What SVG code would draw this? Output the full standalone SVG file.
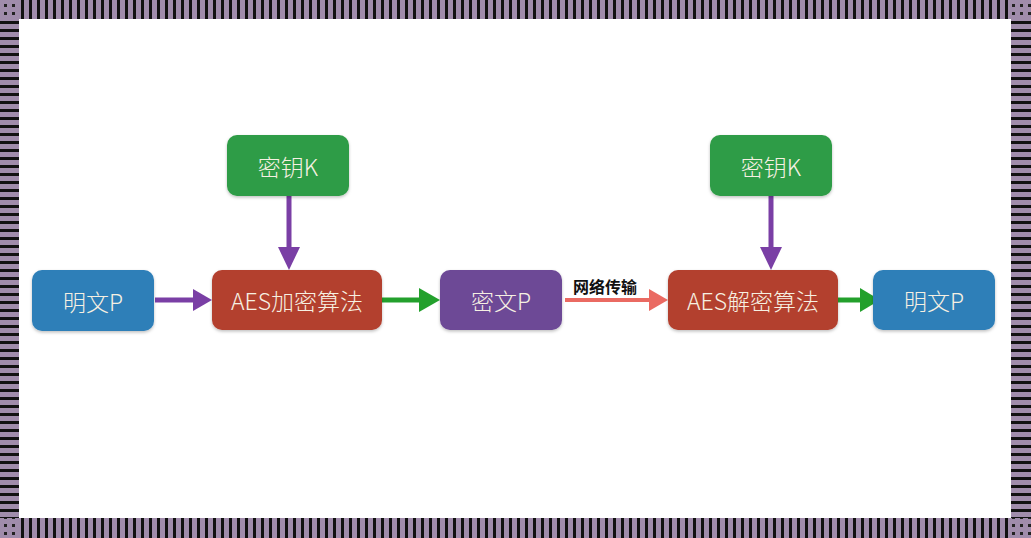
<svg xmlns="http://www.w3.org/2000/svg" width="1031" height="538" viewBox="0 0 1031 538">
<style>
.node rect{stroke:none;filter:url(#sh)}
.node text{font-family:"Noto Sans CJK SC","Liberation Sans",sans-serif;font-size:23px;font-weight:300;fill:#f6f0e2;text-anchor:middle;dominant-baseline:central}
.g rect{fill:#2f9c46}
.r rect{fill:#b3402f}
.p rect{fill:#6d4896}
.b rect{fill:#2e7fb8}
.pa{stroke:#7a3fa5;stroke-width:5;fill:none}
.ga{stroke:#23a02c;stroke-width:5;fill:none}
.ra{stroke:#ea6a62;stroke-width:4;fill:none}
.lbl{font-family:"Noto Sans CJK SC","Liberation Sans",sans-serif;font-size:16px;font-weight:bold;fill:#111}
</style>
<defs>
<pattern id="vs" width="8" height="20" patternUnits="userSpaceOnUse">
<rect width="8" height="20" fill="#a08cab"/><rect x="5" width="3" height="20" fill="#111"/>
</pattern>
<pattern id="hs" width="20" height="8" patternUnits="userSpaceOnUse">
<rect width="20" height="8" fill="#a08cab"/><rect y="5" width="20" height="3" fill="#111"/>
</pattern>
<pattern id="ds" width="8" height="8" patternUnits="userSpaceOnUse" x="1" y="1">
<rect width="8" height="8" fill="#a08cab"/><rect x="3" y="3" width="3" height="3" fill="#222"/>
</pattern>
<filter id="sh" x="-10%" y="-10%" width="120%" height="130%">
<feDropShadow dx="0" dy="1.5" stdDeviation="1.5" flood-color="#000" flood-opacity="0.25"/>
</filter>
</defs>
<rect width="1031" height="538" fill="#fff"/>
<g id="border">
<rect x="0" y="0" width="1031" height="19" fill="url(#vs)"/>
<rect x="0" y="518" width="1031" height="20" fill="url(#vs)"/>
<rect x="0" y="0" width="19" height="538" fill="url(#hs)"/>
<rect x="1011" y="0" width="20" height="538" fill="url(#hs)"/>
<rect x="0" y="0" width="19" height="19" fill="url(#ds)"/>
<rect x="1011" y="0" width="20" height="19" fill="url(#ds)"/>
<rect x="0" y="518" width="19" height="20" fill="url(#ds)"/>
<rect x="1011" y="518" width="20" height="20" fill="url(#ds)"/>
</g>
<g id="connectors">
<line class="pa" x1="289" y1="196" x2="289" y2="250"/>
<polygon points="278,247 300,247 289,270" fill="#7a3fa5"/>
<line class="pa" x1="771" y1="196" x2="771" y2="250"/>
<polygon points="760,247 782,247 771,270" fill="#7a3fa5"/>
<line class="pa" x1="155" y1="300" x2="196" y2="300"/>
<polygon points="193,289 193,311 212,300" fill="#7a3fa5"/>
<line class="ga" x1="382" y1="300" x2="422" y2="300"/>
<polygon points="419,288 419,312 440,300" fill="#23a02c"/>
<line class="ga" x1="838" y1="300" x2="864" y2="300"/>
<polygon points="860,288 860,312 880,300" fill="#23a02c"/>
<line class="ra" x1="565" y1="300" x2="652" y2="300"/>
<polygon points="649,289 649,311 668,300" fill="#ea6a62"/>
<text class="lbl" x="573" y="293">网络传输</text>
</g>
<g id="key1" class="node g"><rect x="227" y="135" width="122" height="61" rx="10"/><text x="288" y="165.5">密钥K</text></g>
<g id="key2" class="node g"><rect x="710" y="135" width="122" height="61" rx="10"/><text x="771" y="165.5">密钥K</text></g>
<g id="plain1" class="node b"><rect x="32" y="270" width="122" height="61" rx="10"/><text x="93" y="300.5">明文P</text></g>
<g id="enc" class="node r"><rect x="212" y="270" width="170" height="60" rx="10"/><text x="297" y="300">AES加密算法</text></g>
<g id="cipher" class="node p"><rect x="440" y="270" width="122" height="60" rx="10"/><text x="501" y="300">密文P</text></g>
<g id="dec" class="node r"><rect x="668" y="270" width="170" height="60" rx="10"/><text x="753" y="300">AES解密算法</text></g>
<g id="plain2" class="node b"><rect x="873" y="270" width="122" height="60" rx="10"/><text x="934" y="300">明文P</text></g>
</svg>
